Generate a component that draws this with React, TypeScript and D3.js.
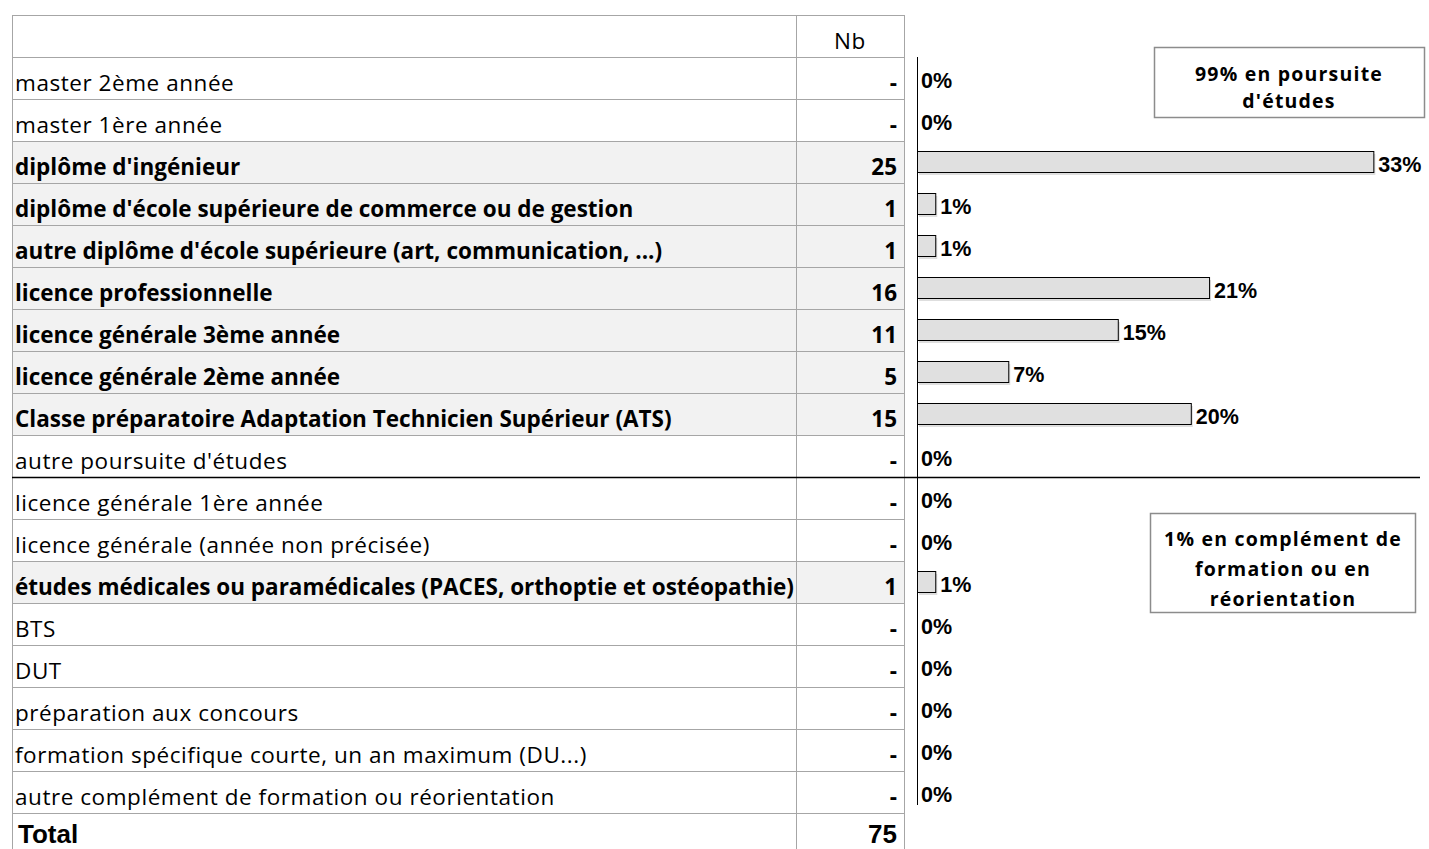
import React from "react";
import * as d3 from "d3";

const categories = [
  "master 2ème année",
  "master 1ère année",
  "diplôme d'ingénieur",
  "diplôme d'école supérieure de commerce ou de gestion",
  "autre diplôme d'école supérieure (art, communication, ...)",
  "licence professionnelle",
  "licence générale 3ème année",
  "licence générale 2ème année",
  "Classe préparatoire Adaptation Technicien Supérieur (ATS)",
  "autre poursuite d'études",
  "licence générale 1ère année",
  "licence générale (année non précisée)",
  "études médicales ou paramédicales (PACES, orthoptie et ostéopathie)",
  "BTS",
  "DUT",
  "préparation aux concours",
  "formation spécifique courte, un an maximum (DU...)",
  "autre complément de formation ou réorientation",
];
const counts = [0, 0, 25, 1, 1, 16, 11, 5, 15, 0, 0, 0, 1, 0, 0, 0, 0, 0];
const total = 75;
const headerLabel = "Nb";
const totalLabel = "Total";
const box1Lines = ["99% en poursuite", "d'études"];
const box2Lines = ["1% en complément de", "formation ou en", "réorientation"];
const splitAfter = 10; // number of rows in "poursuite d'études"

const W = 1429;
const H = 849;
const tableLeft = 12;
const colDiv = 796;
const tableRight = 904;
const top = 15;
const headerH = 42;
const rowH = 42;
const axisX = 917;

const tableFont = "'Open Sans', sans-serif";
const tableSize = 22.5;
const regSpacing = 0.55;
const boxSize = 19.5;
const boxSpacing = 1.2;
const arialFont = "'Liberation Sans', Arial, sans-serif";

export default function App() {
  const y = d3
    .scaleBand<number>()
    .domain(d3.range(categories.length))
    .range([top + headerH, top + headerH + rowH * categories.length])
    .padding(0);
  const x = d3.scaleLinear().domain([0, 1]).range([axisX, axisX + 1369]);
  const fmt = d3.format(".0%");
  const gridColor = "#a6a6a6";
  const rowsEnd = top + headerH + rowH * categories.length;
  const totalBottom = rowsEnd + 42;
  const splitY = y(splitAfter)!;

  return (
    <svg width={W} height={H} style={{ position: "absolute", left: 0, top: 0 }}>
      <rect x={0} y={0} width={W} height={H} fill="#fff" />
      {categories.map((c, i) =>
        counts[i] > 0 ? (
          <rect key={"f" + i} x={tableLeft} y={y(i)!} width={tableRight - tableLeft} height={rowH} fill="#f2f2f2" />
        ) : null
      )}
      {d3.range(categories.length + 1).map((i) => (
        <line key={"h" + i} x1={tableLeft} x2={tableRight} y1={top + headerH + i * rowH + 0.5} y2={top + headerH + i * rowH + 0.5} stroke={gridColor} strokeWidth={1} />
      ))}
      <line x1={tableLeft} x2={tableRight} y1={top + 0.5} y2={top + 0.5} stroke={gridColor} />
      <line x1={tableLeft + 0.5} x2={tableLeft + 0.5} y1={top} y2={totalBottom} stroke={gridColor} />
      <line x1={colDiv + 0.5} x2={colDiv + 0.5} y1={top} y2={totalBottom} stroke={gridColor} />
      <line x1={tableRight + 0.5} x2={tableRight + 0.5} y1={top} y2={totalBottom} stroke={gridColor} />
      <text x={(colDiv + tableRight) / 2} y={top + 34} textAnchor="middle" fontFamily={tableFont} fontSize={tableSize} letterSpacing={regSpacing} fill="#000">
        {headerLabel}
      </text>
      {categories.map((c, i) => {
        const bold = counts[i] > 0;
        return (
          <g key={"r" + i}>
            <text x={tableLeft + 3} y={y(i)! + 34} fontFamily={tableFont} fontSize={tableSize} fontWeight={bold ? 700 : 400} letterSpacing={bold ? 0 : regSpacing} fill="#000">
              {c}
            </text>
            <text x={tableRight - 7} y={y(i)! + 34} textAnchor="end" fontFamily={tableFont} fontSize={tableSize} fontWeight={700} fill="#000">
              {counts[i] > 0 ? counts[i] : "-"}
            </text>
          </g>
        );
      })}
      <text x={tableLeft + 6} y={rowsEnd + 30} fontFamily={arialFont} fontSize={26} fontWeight={700} fill="#000">
        {totalLabel}
      </text>
      <text x={tableRight - 7} y={rowsEnd + 30} textAnchor="end" fontFamily={arialFont} fontSize={26} fontWeight={700} fill="#000">
        {total}
      </text>
      <line x1={axisX + 0.5} x2={axisX + 0.5} y1={top + headerH} y2={rowsEnd - 8} stroke="#000" strokeWidth={1} />
      {categories.map((c, i) => {
        const p = counts[i] / total;
        const cy = y(i)! + rowH / 2;
        const bw = x(p) - x(0);
        return (
          <g key={"b" + i}>
            {counts[i] > 0 && (
              <>
                <rect x={x(0) + 2} y={cy - 10 + 2} width={bw} height={21} fill="#c8c8c8" opacity={0.6} />
                <rect x={x(0) + 0.5} y={cy - 10.5} width={bw} height={21} fill="#e0e0e0" stroke="#000" strokeWidth={1} />
              </>
            )}
            <text x={x(p) + (counts[i] > 0 ? 5 : 4)} y={y(i)! + 31} fontFamily={arialFont} fontSize={21.5} fontWeight={700} fill="#000">
              {fmt(Math.round(p * 100) / 100)}
            </text>
          </g>
        );
      })}
      <line x1={tableLeft} x2={1420} y1={splitY + 0.5} y2={splitY + 0.5} stroke="#000" strokeWidth={1.5} />
      <rect x={1154.5} y={47.5} width={270} height={70} fill="#fff" stroke="#8c8c8c" strokeWidth={1.5} />
      {box1Lines.map((l, k) => (
        <text key={"b1" + k} x={1289} y={81 + k * 27} textAnchor="middle" fontFamily={tableFont} fontSize={boxSize} letterSpacing={boxSpacing} fontWeight={700} fill="#000">
          {l}
        </text>
      ))}
      <rect x={1150.5} y={513.5} width={265} height={99} fill="#fff" stroke="#8c8c8c" strokeWidth={1.5} />
      {box2Lines.map((l, k) => (
        <text key={"b2" + k} x={1283} y={546 + k * 30} textAnchor="middle" fontFamily={tableFont} fontSize={boxSize} letterSpacing={boxSpacing} fontWeight={700} fill="#000">
          {l}
        </text>
      ))}
    </svg>
  );
}
